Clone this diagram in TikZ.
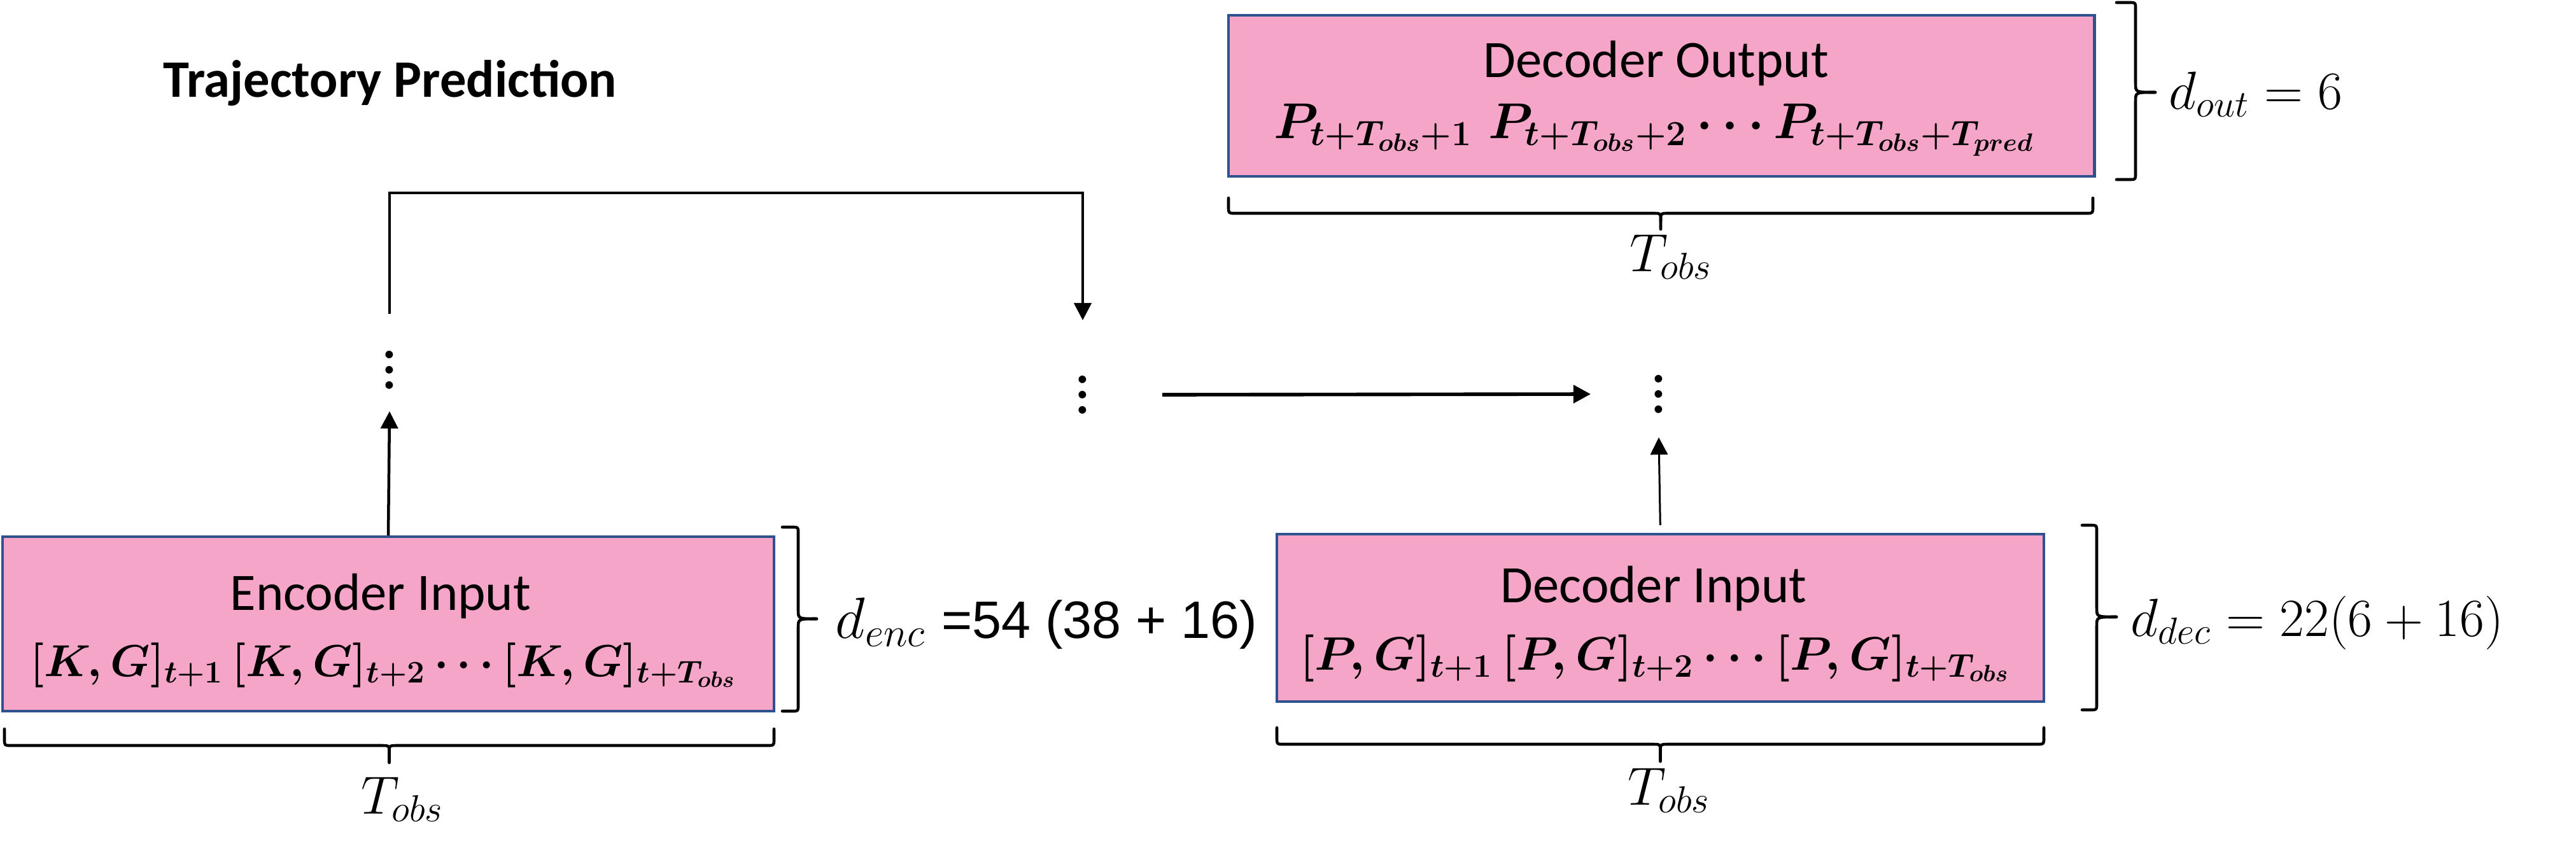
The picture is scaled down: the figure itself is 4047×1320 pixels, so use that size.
\RequirePackage{fix-cm}
\documentclass[tikz,border=0pt]{standalone}
\usepackage{fontspec}
\setmainfont{Carlito}
\newfontfamily\arialf{Liberation Sans}
\usetikzlibrary{arrows.meta,calc}
\definecolor{boxpink}{HTML}{F5A5C8}
\definecolor{boxblue}{HTML}{2F528F}
\newcommand{\mydots}{\vbox{\baselineskip=6.8pt\lineskiplimit=-20pt\hbox{.}\hbox{.}\hbox{.}}}
% horizontal brace (opening up, tip down): xL xR yEnd ySpine yTip
\newcommand{\hbr}[5]{%
 \draw[bracestyle] (#1,#3) -- (#1,#4-10) .. controls (#1,#4) .. (#1+10,#4) -- ({(#1+#2)/2-12},#4) .. controls ({(#1+#2)/2},#4) .. ({(#1+#2)/2},#4+12) -- ({(#1+#2)/2},#5);
 \draw[bracestyle] (#2,#3) -- (#2,#4-10) .. controls (#2,#4) .. (#2-10,#4) -- ({(#1+#2)/2+12},#4) .. controls ({(#1+#2)/2},#4) .. ({(#1+#2)/2},#4+12);}
% vertical brace (tip right): xEnd xSpine xTip yTop yBot yTip
\newcommand{\vbr}[6]{%
 \draw[bracestyle] (#1,#4) -- (#2-9,#4) .. controls (#2,#4) .. (#2,#4+9) -- (#2,#6-14) .. controls (#2,#6) .. (#3,#6);
 \draw[bracestyle] (#1,#5) -- (#2-9,#5) .. controls (#2,#5) .. (#2,#5-9) -- (#2,#6+14) .. controls (#2,#6) .. (#3,#6);}
\tikzset{
 pbox/.style={draw=boxblue, line width=1.2pt, fill=boxpink, inner sep=0pt},
 boxtitle/.style={font=\fontsize{23.5}{28}\selectfont, anchor=base, inner sep=0pt},
 boxmath/.style={font=\fontsize{21}{25}\selectfont\boldmath, anchor=base, inner sep=0pt},
 dimlabel/.style={font=\fontsize{24}{28}\selectfont, anchor=base west, inner sep=0pt},
 tlabel/.style={font=\fontsize{24}{28}\selectfont, anchor=base, inner sep=0pt},
 dotsnode/.style={font=\fontsize{28}{32}\selectfont, inner sep=0pt},
 bracestyle/.style={line width=1.3pt, line cap=round, line join=round},
 conn/.style={line width=1.28pt, -{Triangle[length=7.7pt,width=7.7pt]}},
 thickconn/.style={line width=1.6pt, -{Triangle[length=7.7pt,width=7.9pt]}},
 thinconn/.style={line width=0.85pt, -{Triangle[length=7.7pt,width=7.7pt]}},
}
\begin{document}
\begin{tikzpicture}[x=0.01cm, y=-0.01cm]
\useasboundingbox (0,0) rectangle (4047,1320);

\node[font=\fontsize{23.5}{28}\selectfont\bfseries, anchor=base west, inner sep=0pt] (title) at (256,152) {Trajectory Prediction};

% boxes
\node[pbox, minimum width=12.12cm, minimum height=2.74cm] (enc) at (610,980) {};
\node[pbox, minimum width=12.05cm, minimum height=2.63cm] (decin) at (2608.5,970.5) {};
\node[pbox, minimum width=13.60cm, minimum height=2.53cm] (decout) at (2610,150.5) {};

% box texts
\node[boxtitle] (encT) at (598,958) {Encoder Input};
\node[boxmath, font=\fontsize{20}{24}\selectfont\boldmath] (encM) at (602,1062) {$[K,G]_{t+1}\,[K,G]_{t+2}\cdots[K,G]_{t+T_{obs}}$};
\node[boxtitle] (decinT) at (2598,946) {Decoder Input};
\node[boxmath] (decinM) at (2600,1052) {$[P,G]_{t+1}\,[P,G]_{t+2}\cdots[P,G]_{t+T_{obs}}$};
\node[boxtitle] (decoutT) at (2602,121) {Decoder Output};
\node[boxmath, font=\fontsize{22.5}{26}\selectfont\boldmath] (decoutM) at (2599,217) {$P_{t+T_{obs}+1}\;P_{t+T_{obs}+2}\cdots P_{t+T_{obs}+T_{pred}}$};

% braces
\vbr{1229}{1254}{1283}{828}{1117}{972}
\vbr{3271}{3294}{3325}{825}{1115}{969}
\vbr{3325}{3355}{3386}{4}{282}{145}
\hbr{7}{1216}{1145}{1171}{1198}
\hbr{1930}{3288}{311}{335}{360}
\hbr{2006}{3211}{1143}{1169}{1196}

% dimension labels
\node[dimlabel] (denc) at (1312,1002) {{\fontsize{26}{30}\selectfont$d_{enc}$}\hspace{7pt}{\arialf\fontsize{23.5}{28}\selectfont =54 (38 + 16)}};
\node[dimlabel] (ddec) at (3347,999) {$d_{dec} = 22(6+16)$};
\node[dimlabel] (dout) at (3407,171) {$d_{out} = 6$};
\node[tlabel] (tenc) at (632,1278) {$T_{obs}$};
\node[tlabel] (tdecin) at (2622,1264) {$T_{obs}$};
\node[tlabel] (tdecout) at (2625,426) {$T_{obs}$};

% vertical dots
\node[dotsnode] (dots1) at (612,581) {\mydots};
\node[dotsnode] (dots2) at (1701,620) {\mydots};
\node[dotsnode] (dots3) at (2606,619) {\mydots};

% connectors
\draw[conn] (enc.north) -- ($(dots1.center)+(0,65)$);
\draw[conn] ($(dots1.center)+(0,-88)$) -- ($(dots1.center)+(0,-278)$) -| ($(dots2.center)+(0,-117)$);
\draw[thickconn] ($(dots2.center)+(125,0)$) -- ($(dots3.center)+(-107,0)$);
\draw[thinconn, shorten <=12*0.01cm] (decin.north) -- ($(dots3.center)+(0,68)$);
\end{tikzpicture}
\end{document}
